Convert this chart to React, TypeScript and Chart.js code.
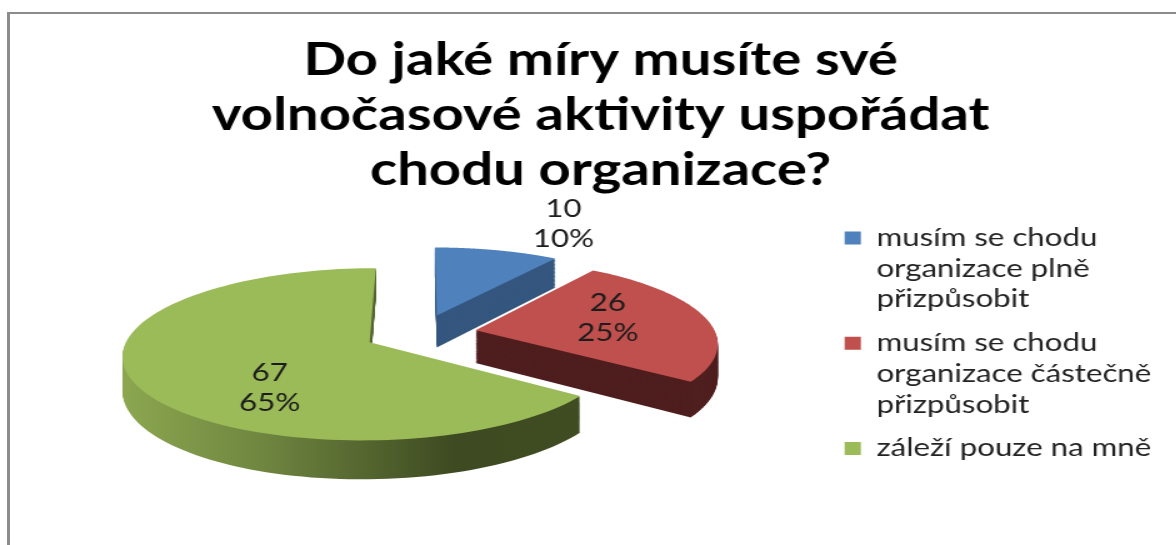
import React, { useEffect, useRef } from "react";
import { Chart, registerables } from "chart.js";

Chart.register(...registerables);

const titleLines = ["Do jaké míry musíte své", "volnočasové aktivity uspořádat", "chodu organizace?"];
const categories = [
  ["musím se chodu", "organizace plně", "přizpůsobit"],
  ["musím se chodu", "organizace částečně", "přizpůsobit"],
  ["záleží pouze na mně"],
];
const counts = [10, 26, 67];
const topColors = ["#4f81bd", "#c0504d", "#9bbb59"];
const wallColors = ["#35577f", "#4f1e1e", "#3e4a21"];
const labelNudges = [[71, -51], [-5, -4], [30, 22]];

// The canvas is drawn narrow and widened with CSS, which gives the wide lettering.
const STRETCH = 1.25;
const CANVAS_W = 941;
const CANVAS_H = 545;
const DISC_RADIUS = 192;
const EXPLODE = 45;
const TILT = 0.427;
const PERSPECTIVE = 0.1376;
const DEPTH = 33;
const FONT = "Lato, Carlito, sans-serif";
const PIE_SHIFT = { x: -10, y: -2 };
const LEGEND_DROP = 93;

// Projects a point of the pie's plane onto the canvas, receding towards the top.
function project(cx: number, cy: number, r: number, u: number, v: number, z = 0) {
  const p = 1 + PERSPECTIVE * v;
  return { x: cx + (r * u) / p, y: cy + (-r * TILT * v + z * DEPTH) / p };
}

function tracePath(ctx: CanvasRenderingContext2D, pts: { u: number; v: number }[], cx: number, cy: number, r: number, z: number) {
  ctx.beginPath();
  pts.forEach((pt, i) => {
    const q = project(cx, cy, r, pt.u, pt.v, z);
    if (i === 0) ctx.moveTo(q.x, q.y);
    else ctx.lineTo(q.x, q.y);
  });
  ctx.closePath();
}

const pie3d = {
  id: "pie3d",
  afterLayout(chart: any) {
    // Multi-line legend items are over-measured, so the block is moved down by hand.
    chart.legend.top += LEGEND_DROP;
    chart.legend.bottom += LEGEND_DROP;
  },
  beforeDatasetsDraw(chart: any) {
    const ctx: CanvasRenderingContext2D = chart.ctx;
    const arcs = chart.getDatasetMeta(0).data;
    const total = counts.reduce((a, b) => a + b, 0);
    arcs.forEach((arc: any, i: number) => {
      const r = arc.outerRadius;
      const cx = arc.x + PIE_SHIFT.x;
      const cy = arc.y + PIE_SHIFT.y;
      const mid = (arc.startAngle + arc.endAngle) / 2;
      const off = arc.options.offset / r;
      const cu = Math.cos(mid) * off;
      const cv = -Math.sin(mid) * off;
      const pts = [{ u: cu, v: cv }];
      const steps = 120;
      for (let s = 0; s <= steps; s++) {
        const a = arc.startAngle + ((arc.endAngle - arc.startAngle) * s) / steps;
        pts.push({ u: cu + Math.cos(a), v: cv - Math.sin(a) });
      }
      // Side wall: the outline swept downwards.
      let wall: string | CanvasGradient = wallColors[i];
      if (i === 2) {
        const left = project(cx, cy, r, cu - 1, cv).x;
        const right = project(cx, cy, r, cu + 0.82, cv - 0.58).x;
        const g = ctx.createLinearGradient(left, 0, right, 0);
        g.addColorStop(0, "#8ba64f");
        g.addColorStop(0.3, "#6f8640");
        g.addColorStop(0.72, "#3e4a21");
        g.addColorStop(1, "#404c22");
        wall = g;
      }
      ctx.fillStyle = wall;
      for (let z = 36; z > 0; z--) {
        tracePath(ctx, pts, cx, cy, r, z / 36);
        ctx.fill();
      }
      ctx.fillStyle = arc.options.backgroundColor;
      tracePath(ctx, pts, cx, cy, r, 0);
      ctx.fill();
    });
    // Value and share labels, on top of all three slices.
    ctx.fillStyle = "#1c1c1c";
    ctx.font = `25px ${FONT}`;
    ctx.textAlign = "center";
    ctx.textBaseline = "middle";
    arcs.forEach((arc: any, i: number) => {
      const r = arc.outerRadius;
      const cx = arc.x + PIE_SHIFT.x;
      const cy = arc.y + PIE_SHIFT.y;
      const mid = (arc.startAngle + arc.endAngle) / 2;
      const off = arc.options.offset / r;
      const u = Math.cos(mid) * (off + 0.6);
      const v = -Math.sin(mid) * (off + 0.6);
      const q = project(cx, cy, r, u, v);
      const x = q.x + labelNudges[i][0];
      const y = q.y + labelNudges[i][1];
      ctx.fillText(String(counts[i]), x, y - 15);
      ctx.fillText(`${Math.round((counts[i] / total) * 100)}%`, x, y + 15);
    });
    return false;
  },
};

export default function App() {
  const ref = useRef<HTMLCanvasElement>(null);
  useEffect(() => {
    const chart = new Chart(ref.current as HTMLCanvasElement, {
      type: "pie",
      data: {
        labels: categories as any,
        datasets: [
          {
            data: counts,
            backgroundColor: topColors,
            borderWidth: 0,
            offset: EXPLODE,
            radius: DISC_RADIUS,
          } as any,
        ],
      },
      options: {
        responsive: false,
        animation: false,
        devicePixelRatio: 1,
        layout: { padding: { left: 30, right: 10, top: 33, bottom: 72 } },
        plugins: {
          tooltip: { enabled: false },
          title: {
            display: true,
            text: titleLines,
            color: "#000000",
            font: { family: FONT, size: 45, weight: "bold", lineHeight: 1.22 },
            padding: { top: 0, bottom: 0 },
          },
          legend: {
            position: "right",
            labels: {
              color: "#222222",
              font: { family: FONT, size: 25, lineHeight: 1.23 },
              boxWidth: 13,
              boxHeight: 13,
              padding: 13,
            },
          },
        },
      },
      plugins: [pie3d],
    } as any);
    return () => chart.destroy();
  }, []);
  return (
    <div style={{ position: "absolute", left: 0, top: 0, width: 1176, height: 545, overflow: "hidden", background: "#fff" }}>
      <canvas
        ref={ref}
        width={CANVAS_W}
        height={CANVAS_H}
        style={{ position: "absolute", left: 0, top: 0, transform: `scaleX(${STRETCH})`, transformOrigin: "0 0" }}
      />
      <div style={{ position: "absolute", left: 7, top: 12, right: -5, bottom: -5, borderTop: "2px solid #8c8c8c", borderLeft: "3px solid #8c8c8c" }} />
    </div>
  );
}
